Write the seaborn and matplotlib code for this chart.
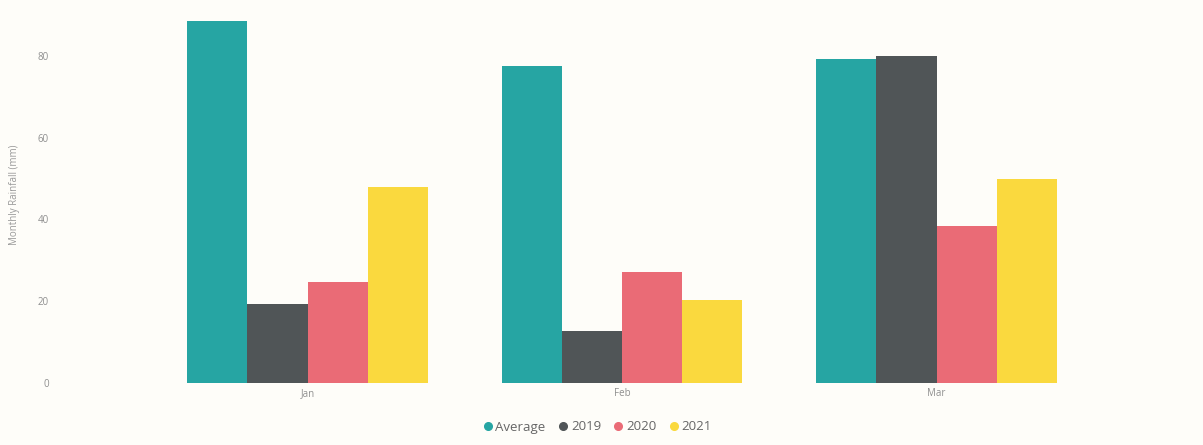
import matplotlib
matplotlib.use("Agg")
import matplotlib.pyplot as plt
from matplotlib.lines import Line2D
import seaborn as sns
import pandas as pd

months = ["Jan", "Feb", "Mar"]
series = ["Average", "2019", "2020", "2021"]
average = [88.5, 77.5, 79.2]
y2019 = [19.4, 12.6, 80.0]
y2020 = [24.8, 27.2, 38.5]
y2021 = [47.9, 20.4, 49.9]
colors = ["#26a5a3", "#505557", "#ea6b76", "#fad93e"]

rows = []
for name, vals in zip(series, [average, y2019, y2020, y2021]):
    for m, v in zip(months, vals):
        rows.append({"Month": m, "Series": name, "Rainfall": v})
df = pd.DataFrame(rows)

sns.set_style("white")
plt.rcParams["font.family"] = ["Open Sans", "DejaVu Sans"]
bg = "#fefdf9"
fig = plt.figure(figsize=(12.03, 4.45), dpi=100, facecolor=bg)
ax = fig.add_axes([60 / 1203, 1 - 383 / 445, 1125 / 1203, (383 - 15) / 445])
ax.set_facecolor(bg)
sns.barplot(data=df, x="Month", y="Rainfall", hue="Series", hue_order=series,
            order=months, palette=colors, width=0.765, saturation=1,
            linewidth=0, edgecolor="none", ax=ax, legend=False)
ax.set_xlim(-0.787, 2.79)
ax.set_ylim(0, 90)
ax.set_yticks([0, 20, 40, 60, 80])
for s in ax.spines.values():
    s.set_visible(False)
ax.tick_params(axis="both", length=0, labelsize=7, labelcolor="#8f8f8f")
ax.tick_params(axis="y", pad=8)
ax.set_xlabel("")
ax.set_ylabel("")
fig.text(15 / 1203, 1 - 195 / 445, "Monthly Rainfall (mm)", rotation=90,
         ha="center", va="center", fontsize=7, color="#999999")

handles = [Line2D([], [], marker="o", linestyle="", markersize=5.5,
                  markerfacecolor=c, markeredgecolor=c) for c in colors]
fig.legend(handles, series, loc="center", bbox_to_anchor=(597 / 1203, 1 - 427 / 445),
           ncol=4, frameon=False, fontsize=9.5, labelcolor="#666666",
           handletextpad=0.2, columnspacing=0.9, handlelength=0.8)

fig.savefig("out.png", dpi=100, facecolor=bg)
